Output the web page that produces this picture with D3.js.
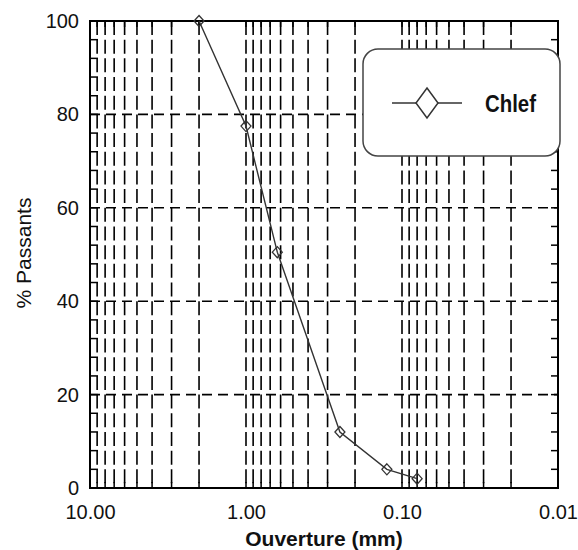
<!DOCTYPE html>
<html><head><meta charset="utf-8">
<script src="https://cdn.jsdelivr.net/npm/d3@7"></script>
<style>body{margin:0;background:#fff}svg{display:block}</style>
</head><body>
<svg id="c" width="578" height="550"></svg>
<script>
const seriesName = "Chlef";
const openings = [2.0, 1.0, 0.63, 0.25, 0.125, 0.08];
const passing = [100, 77.5, 50.5, 12, 4, 2];
const xTickValues = [10, 1, 0.1, 0.01];
const xTickLabels = ["10.00", "1.00", "0.10", "0.01"];
const yTickValues = [0, 20, 40, 60, 80, 100];
const xTitle = "Ouverture (mm)";
const yTitle = "% Passants";

const svg = d3.select("#c");
const L = 90, R = 558, T = 21, B = 488;
const x = d3.scaleLog().domain([10, 0.01]).range([L, R]);
const y = d3.scaleLinear().domain([0, 100]).range([B, T]);

// minor log positions
const minor = [];
[1, 0.1, 0.01].forEach(d => { for (let k = 1; k <= 9; k++) minor.push(+(k * d).toPrecision(3)); });
minor.push(10);
const innerMinor = minor.filter(v => v < 10 && v > 0.01);

const g = svg.append("g");
// vertical dashed gridlines
g.selectAll(".vg").data(innerMinor).join("line")
  .attr("x1", d => x(d)).attr("x2", d => x(d)).attr("y1", T).attr("y2", B)
  .attr("stroke", "#000").attr("stroke-width", 1.6).attr("stroke-dasharray", "14,4.68");
// horizontal dashed gridlines
g.selectAll(".hg").data([20, 40, 60, 80]).join("line")
  .attr("x1", L).attr("x2", R).attr("y1", d => y(d)).attr("y2", d => y(d))
  .attr("stroke", "#000").attr("stroke-width", 1.6).attr("stroke-dasharray", "10,6");

// small ticks on left/right every 4 units
const yMinor = d3.range(0, 101, 4);
g.selectAll(".lt").data(yMinor).join("line")
  .attr("x1", L).attr("x2", L + 8).attr("y1", d => y(d)).attr("y2", d => y(d))
  .attr("stroke", "#000").attr("stroke-width", 1.5);
g.selectAll(".rt").data(yMinor).join("line")
  .attr("x1", R).attr("x2", R - 7).attr("y1", d => y(d)).attr("y2", d => y(d))
  .attr("stroke", "#000").attr("stroke-width", 1.5);
// top/bottom minor ticks
g.selectAll(".bt").data(minor).join("line")
  .attr("x1", d => x(d)).attr("x2", d => x(d)).attr("y1", B).attr("y2", B - 6)
  .attr("stroke", "#000").attr("stroke-width", 1.5);
g.selectAll(".tt").data(minor).join("line")
  .attr("x1", d => x(d)).attr("x2", d => x(d)).attr("y1", T).attr("y2", T + 6)
  .attr("stroke", "#000").attr("stroke-width", 1.5);

// frame
g.append("rect").attr("x", L).attr("y", T).attr("width", R - L).attr("height", B - T)
  .attr("fill", "none").attr("stroke", "#000").attr("stroke-width", 2);

// axes labels via d3 axes (no lines)
const xAxis = d3.axisBottom(x).tickValues(xTickValues)
  .tickFormat((d, i) => xTickLabels[i]).tickSize(0).tickPadding(17);
const xa = svg.append("g").attr("transform", `translate(0,${B})`).call(xAxis);
xa.select(".domain").remove();
xa.selectAll("text").attr("font-family", "Liberation Sans, Arial, sans-serif")
  .attr("font-size", 20).attr("fill", "#111");

const yAxis = d3.axisLeft(y).tickValues(yTickValues).tickSize(0).tickPadding(11);
const ya = svg.append("g").attr("transform", `translate(${L},0)`).call(yAxis);
ya.select(".domain").remove();
ya.selectAll("text").attr("font-family", "Liberation Sans, Arial, sans-serif")
  .attr("font-size", 20).attr("fill", "#111");

svg.append("text").attr("x", 324).attr("y", 546).attr("text-anchor", "middle")
  .attr("font-family", "Liberation Sans, Arial, sans-serif").attr("font-weight", "bold")
  .attr("font-size", 21).attr("fill", "#111").text(xTitle);
svg.append("text").attr("transform", "translate(31,253) rotate(-90)").attr("text-anchor", "middle")
  .attr("font-family", "Liberation Sans, Arial, sans-serif")
  .attr("font-size", 21).attr("fill", "#111").text(yTitle);

// data line
const pts = openings.map((o, i) => [o, passing[i]]);
svg.append("path").datum(pts)
  .attr("d", d3.line().x(d => x(d[0])).y(d => y(d[1])))
  .attr("fill", "none").attr("stroke", "#333").attr("stroke-width", 1.4);
const dia = (cx, cy, hw, hh) => `M${cx},${cy - hh}L${cx + hw},${cy}L${cx},${cy + hh}L${cx - hw},${cy}Z`;
svg.selectAll(".pt").data(pts).join("path")
  .attr("d", d => dia(x(d[0]), y(d[1]), 5, 5.5))
  .attr("fill", "none").attr("stroke", "#333").attr("stroke-width", 1.3);

// legend
const lg = svg.append("g");
lg.append("rect").attr("x", 363).attr("y", 49).attr("width", 197).attr("height", 107).attr("rx", 15)
  .attr("fill", "#fff").attr("stroke", "#444").attr("stroke-width", 1.5);
lg.append("line").attr("x1", 392).attr("x2", 462).attr("y1", 103).attr("y2", 103)
  .attr("stroke", "#333").attr("stroke-width", 1.5);
lg.append("path").attr("d", dia(427, 103, 11, 15)).attr("fill", "#fff")
  .attr("stroke", "#333").attr("stroke-width", 1.5);
lg.append("text").attr("x", 485).attr("y", 112)
  .attr("font-family", "Liberation Sans, Arial, sans-serif").attr("font-weight", "bold")
  .attr("font-size", 24).attr("textLength", 51).attr("lengthAdjust", "spacingAndGlyphs")
  .attr("fill", "#111").text(seriesName);
</script>
</body></html>
